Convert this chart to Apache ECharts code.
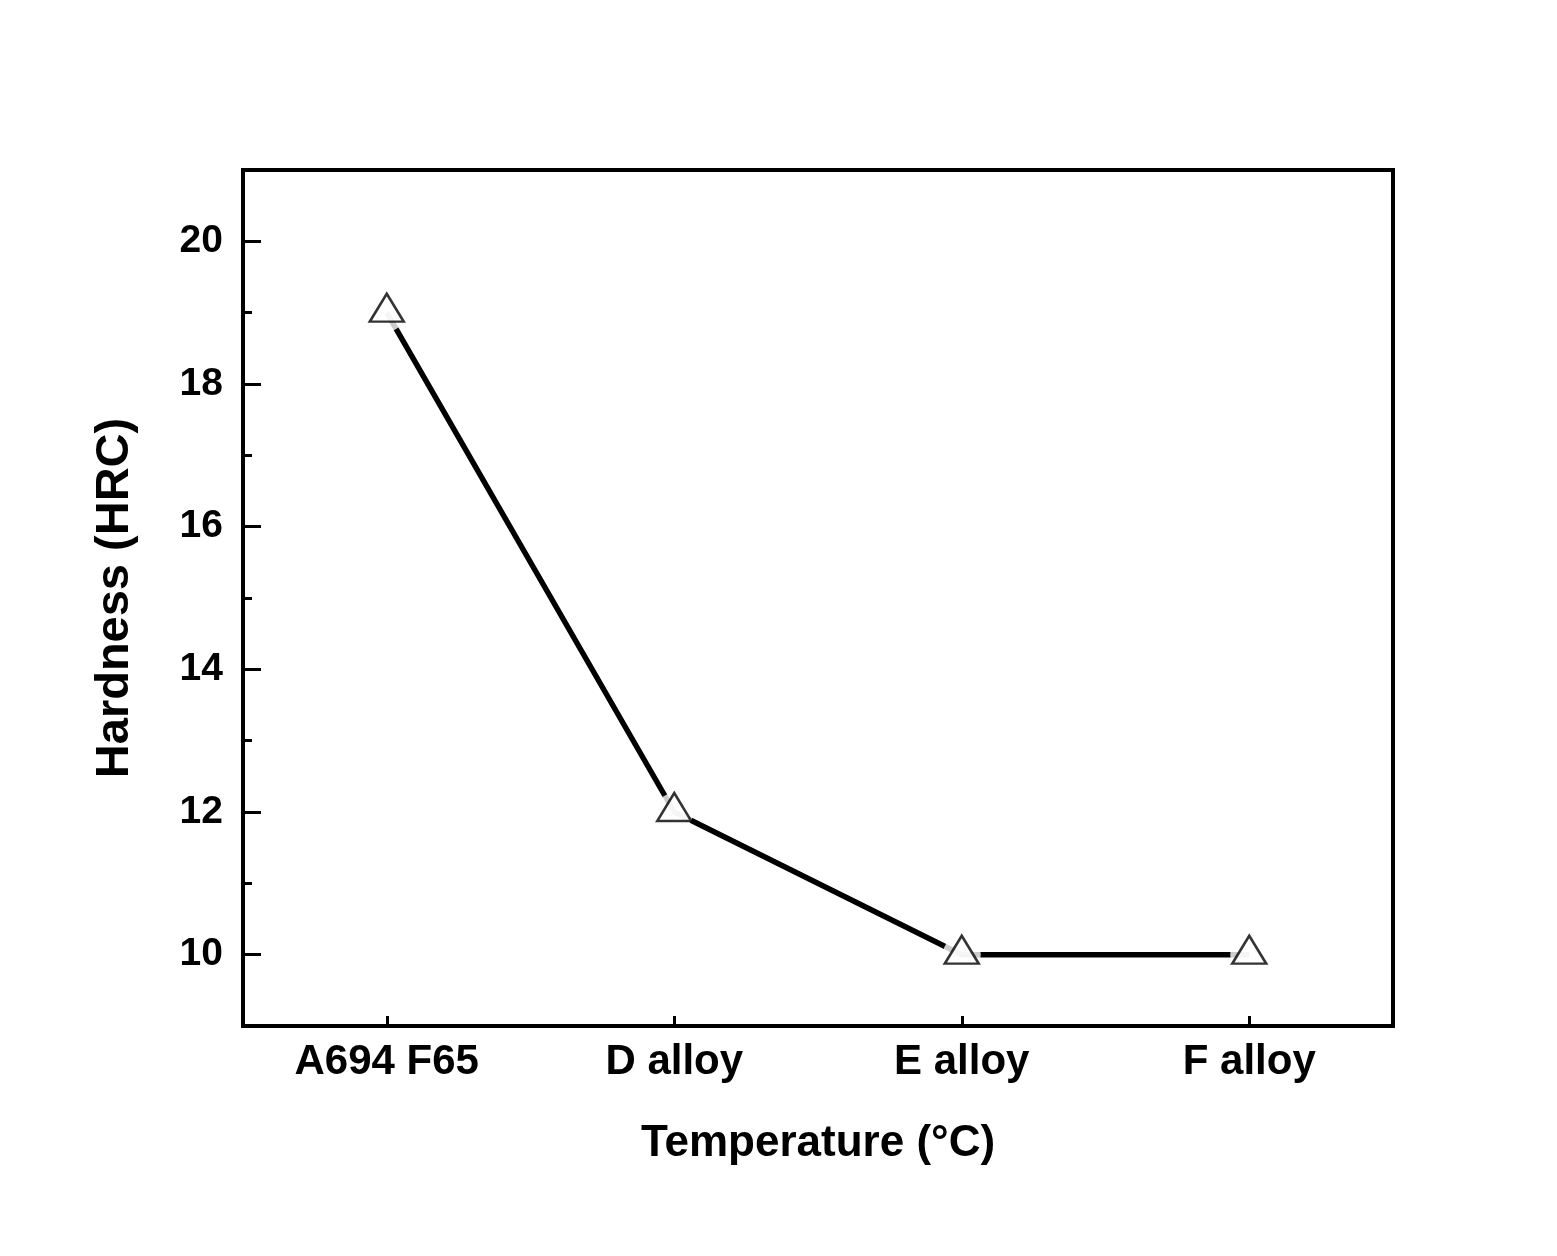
<!DOCTYPE html>
<html><head><meta charset="utf-8">
<script src="https://cdn.jsdelivr.net/npm/echarts@6/dist/echarts.min.js"></script>
<style>html,body{margin:0;padding:0;background:#fff}#c{width:1557px;height:1256px}</style>
</head><body><div id="c"></div>
<script>
const categories = ['A694 F65', 'D alloy', 'E alloy', 'F alloy'];
const hardness = [19, 12, 10, 10];
const yTickLabels = [10, 12, 14, 16, 18, 20];
const xTitle = 'Temperature (°C)';
const yTitle = 'Hardness (HRC)';

const font = 'Liberation Sans, Arial, sans-serif';
const yMin = 9, yMax = 21;
const plot = {left: 243, right: 164, top: 170, bottom: 230};
const pxPerUnit = (1256 - plot.top - plot.bottom) / (yMax - yMin);
const majMin = yTickLabels[0], majMax = yTickLabels[yTickLabels.length - 1];
const chart = echarts.init(document.getElementById('c'), null, {renderer: 'canvas'});
chart.setOption({
  animation: false,
  backgroundColor: '#fff',
  grid: [
    Object.assign({show: true, borderColor: '#000', borderWidth: 4}, plot),
    {show: false, left: plot.left, right: plot.right,
     top: plot.top + (yMax - majMax) * pxPerUnit, bottom: plot.bottom + (majMin - yMin) * pxPerUnit}
  ],
  xAxis: [{
    type: 'category', data: categories, boundaryGap: true, gridIndex: 0,
    name: xTitle, nameLocation: 'middle', nameGap: 96,
    nameTextStyle: {fontFamily: font, fontWeight: 'bold', fontSize: 44, color: '#000'},
    axisLine: {show: true, lineStyle: {color: '#000', width: 4}},
    axisTick: {show: true, inside: true, alignWithLabel: true, length: 10, lineStyle: {color: '#000', width: 3}},
    axisLabel: {fontFamily: font, fontWeight: 'bold', fontSize: 42, color: '#000', margin: 15},
    splitLine: {show: false}
  }, {
    type: 'category', data: categories, gridIndex: 1,
    axisLine: {show: false}, axisTick: {show: false}, axisLabel: {show: false}, splitLine: {show: false}
  }],
  yAxis: [{
    type: 'value', min: yMin, max: yMax, interval: 1, gridIndex: 0,
    name: yTitle, nameLocation: 'middle', nameGap: 104,
    nameTextStyle: {fontFamily: font, fontWeight: 'bold', fontSize: 47, color: '#000'},
    axisLine: {show: true, lineStyle: {color: '#000', width: 4}},
    axisTick: {show: true, inside: true, length: 9, lineStyle: {color: '#000', width: 3}},
    axisLabel: {customValues: yTickLabels, fontFamily: font, fontWeight: 'bold', fontSize: 39, color: '#000', margin: 20},
    splitLine: {show: false}
  }, {
    type: 'value', min: majMin, max: majMax, interval: 2, gridIndex: 1, position: 'left',
    axisLine: {show: false},
    axisTick: {show: true, inside: true, length: 18, lineStyle: {color: '#000', width: 3}},
    axisLabel: {show: false},
    splitLine: {show: false}
  }],
  series: [{
    type: 'line', data: hardness, showSymbol: false, z: 2,
    lineStyle: {color: '#000', width: 5.5}
  }, {
    type: 'scatter', data: hardness, symbol: 'circle', symbolSize: 38, z: 3,
    itemStyle: {color: '#fff', borderWidth: 0}
  }, {
    type: 'scatter', data: hardness, symbol: 'triangle', symbolSize: [34, 28], symbolOffset: [0, -5], z: 4,
    itemStyle: {color: '#fff', borderColor: '#000', borderWidth: 2.5}
  }, {
    type: 'line', data: hardness, xAxisIndex: 1, yAxisIndex: 1, showSymbol: false, silent: true,
    lineStyle: {opacity: 0, width: 0}
  }]
});
</script></body></html>
